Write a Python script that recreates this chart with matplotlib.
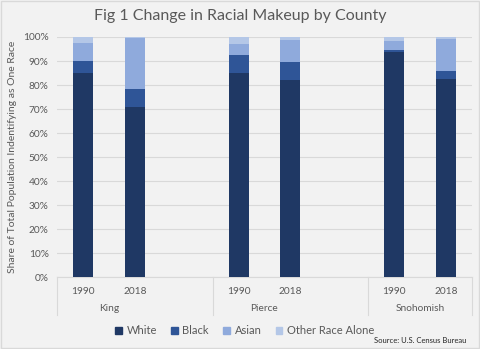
import matplotlib.pyplot as plt
import matplotlib.transforms as mtransforms
from matplotlib.patches import Rectangle, Patch
from matplotlib.lines import Line2D

counties = ['King', 'Pierce', 'Snohomish']
years = ['1990', '2018']
races = ['White', 'Black', 'Asian', 'Other Race Alone']

# share of population (%), order: King 1990, King 2018, Pierce 1990, Pierce 2018, Snohomish 1990, Snohomish 2018
white = [84.9, 70.9, 85.2, 82.0, 93.9, 82.4]
black = [5.1, 7.5, 7.2, 7.5, 0.7, 3.5]
asian = [7.6, 21.3, 4.8, 9.4, 3.6, 13.3]
other = [2.4, 0.3, 2.8, 1.1, 1.8, 0.8]

colors = ['#1f3864', '#2f5597', '#8faadc', '#b4c7e7']
grey = '#595959'
plt.rcParams['font.family'] = ['Lato', 'DejaVu Sans']

fig = plt.figure(figsize=(4.8, 3.49), dpi=100, facecolor='#f2f2f2')
ax = fig.add_axes([0.119, 0.206, 0.864, 0.688])
ax.set_facecolor('#f2f2f2')

# three slots per county, the last county has no trailing gap
xpos = []
for i in range(len(counties)):
    xpos += [3 * i, 3 * i + 1]

bottom = [0] * len(xpos)
for vals, c, name in zip([white, black, asian, other], colors, races):
    ax.bar(xpos, vals, 0.385, bottom=bottom, color=c, label=name, zorder=3)
    bottom = [b + v for b, v in zip(bottom, vals)]

ax.set_xlim(-0.5, 7.5)
ax.set_ylim(0, 100)
ax.set_yticks(range(0, 101, 10))
ax.set_yticklabels([f'{v}%' for v in range(0, 101, 10)], fontsize=7.3, color=grey)
ax.yaxis.grid(True, color='#d9d9d9', linewidth=0.8, zorder=0)
ax.tick_params(axis='y', length=0, pad=6)
ax.set_xticks([])
for s in ['top', 'right', 'left']:
    ax.spines[s].set_visible(False)
ax.spines['bottom'].set_color('#d9d9d9')

ax.set_ylabel('Share of Total Population Indentifying as One Race', fontsize=7.5, color=grey, labelpad=4)

trans = mtransforms.blended_transform_factory(ax.transData, fig.transFigure)
for x, yr in zip(xpos, years * len(counties)):
    ax.text(x, 0.165, yr, transform=trans, ha='center', va='center', fontsize=7.3, color=grey)
for i, name in enumerate(counties):
    ax.text(3 * i + 0.5, 0.115, name, transform=trans, ha='center', va='center', fontsize=7.3, color=grey)
for xs in [-0.5, 2.5, 5.5, 7.5]:
    ax.add_line(Line2D([xs, xs], [0.206, 0.098], transform=trans, color='#d9d9d9', linewidth=0.8, clip_on=False))

handles = [Patch(color=c, label=r) for c, r in zip(colors, races)]
fig.legend(handles=handles, loc='center', bbox_to_anchor=(0.51, 0.052), ncol=4, frameon=False,
           fontsize=8, labelcolor=grey, handlelength=0.6, handleheight=0.6, handletextpad=0.4,
           columnspacing=1.3)

fig.text(0.5, 0.955, 'Fig 1 Change in Racial Makeup by County', ha='center', va='center', fontsize=11.5, color=grey)
fig.text(0.972, 0.023, 'Source: U.S. Census Bureau', ha='right', va='center', fontsize=5.5, color='#262626')

fig.add_artist(Rectangle((0.002, 0.003), 0.996, 0.994, transform=fig.transFigure, fill=False,
                         edgecolor='#d9d9d9', linewidth=1))

fig.savefig('out.png', dpi=100, facecolor=fig.get_facecolor())
